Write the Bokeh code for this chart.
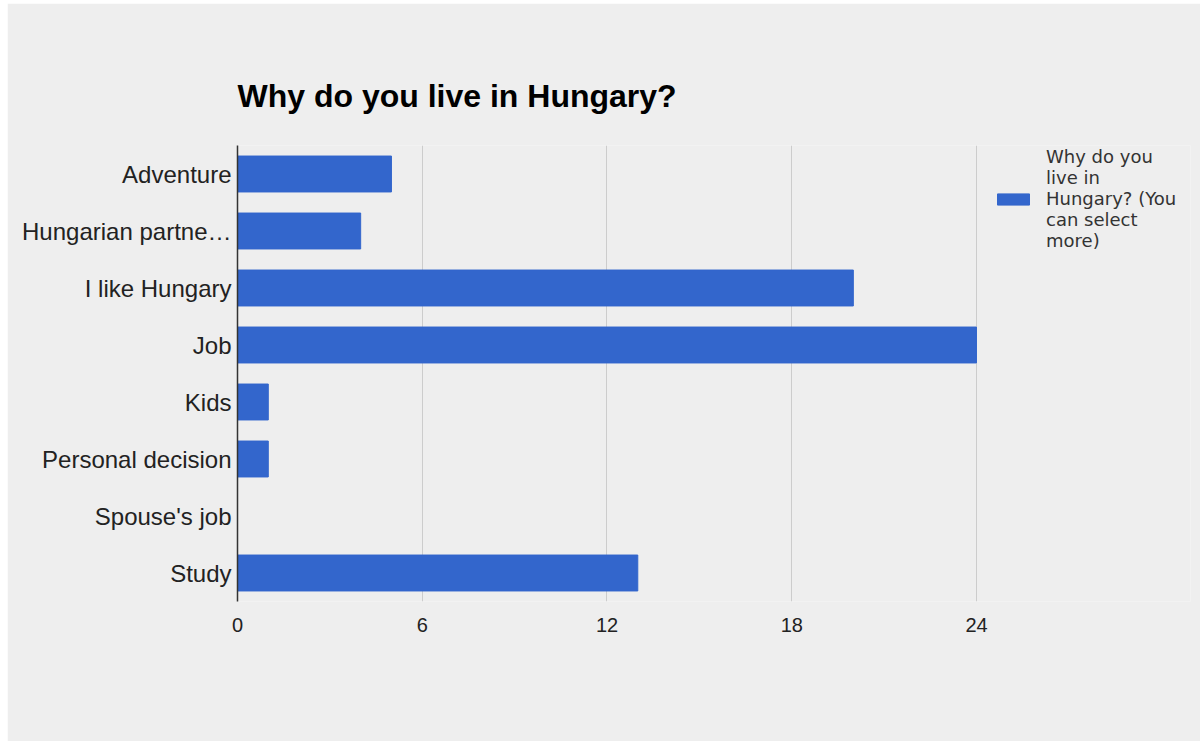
from bokeh.plotting import figure
from bokeh.models import (ColumnDataSource, FactorRange, Range1d, FixedTicker,
                          Legend, LegendItem)
from bokeh.embed import file_html
from bokeh.resources import INLINE

title_text = "Why do you live in Hungary?"
series_name = "Why do you\nlive in\nHungary? (You\ncan select\nmore)"
categories = ["Adventure", "Hungarian partne\u2026", "I like Hungary", "Job", "Kids",
              "Personal decision", "Spouse's job", "Study"]
counts = [5, 4, 20, 24, 1, 1, 0, 13]
x_ticks = [0, 6, 12, 18, 24]

BG = "#eeeeee"
BAR = "#3366cc"

src = ColumnDataSource(dict(cat=categories, val=counts))

# frame spans to the right edge so the legend can sit inside it; 0..24 keeps 739 px
p = figure(width=1193, height=738, output_backend="svg", toolbar_location=None,
           y_range=FactorRange(*reversed(categories)), x_range=Range1d(0, 30.95),
           min_border_left=230, min_border_right=10, min_border_top=142,
           min_border_bottom=140, title=title_text)
p.margin = (3, 0, 0, 7)
p.background_fill_color = BG
p.border_fill_color = BG
p.outline_line_color = None

p.title.text_font = "Liberation Sans"
p.title.text_font_size = "32px"
p.title.text_font_style = "bold"
p.title.text_color = "#000000"
p.title.align = "left"
p.title.standoff = 63

r = p.hbar(y="cat", right="val", left=0, height=0.63, source=src,
           fill_color=BAR, line_color=BAR)

p.xaxis.ticker = FixedTicker(ticks=x_ticks)
p.xaxis.axis_line_color = None
p.xaxis.major_tick_line_color = None
p.xaxis.minor_tick_line_color = None
p.xaxis.major_label_text_font = "Liberation Sans"
p.xaxis.major_label_text_font_size = "20px"
p.xaxis.major_label_text_color = "#222222"
p.xaxis.major_label_standoff = 10

p.yaxis.axis_line_color = "#333333"
p.yaxis.axis_line_width = 1.5
p.yaxis.major_tick_line_color = None
p.yaxis.minor_tick_line_color = None
p.yaxis.major_label_text_font = "Liberation Sans"
p.yaxis.major_label_text_font_size = "24px"
p.yaxis.major_label_text_color = "#222222"
p.yaxis.major_label_standoff = 0

p.xgrid.ticker = FixedTicker(ticks=x_ticks[1:])
p.xgrid.grid_line_color = "#cccccc"
p.ygrid.grid_line_color = None

legend = Legend(items=[LegendItem(label=series_name, renderers=[r])],
                location=(756, 350), glyph_width=40, glyph_height=14,
                label_standoff=13, label_text_font="DejaVu Sans",
                label_text_font_size="18px", label_text_color="#333333",
                label_text_line_height=1.5, background_fill_alpha=0,
                border_line_color=None, margin=0, padding=0, spacing=0)
p.add_layout(legend)

open("out.html", "w").write(file_html(p, INLINE))
